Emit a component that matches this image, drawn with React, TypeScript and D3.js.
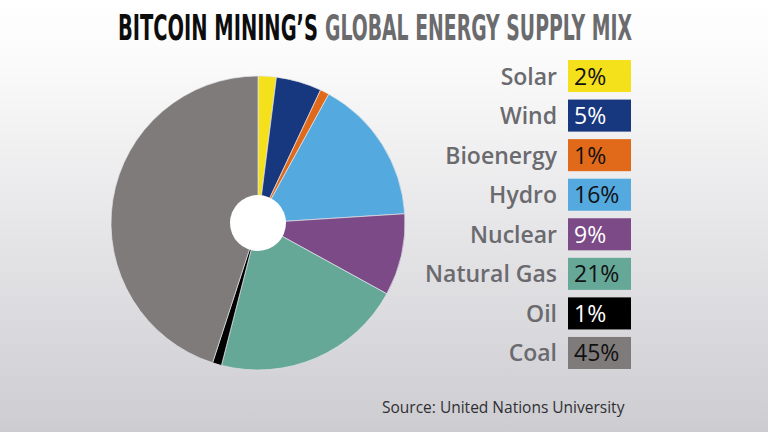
import { useEffect, useRef } from 'react';
import * as d3 from 'd3';

const categories = ['Solar', 'Wind', 'Bioenergy', 'Hydro', 'Nuclear', 'Natural Gas', 'Oil', 'Coal'];
const shares = [2, 5, 1, 16, 9, 21, 1, 45];
const colors = ['#f4e01b', '#17377f', '#e06a1a', '#54a9df', '#7c4a86', '#66a898', '#000000', '#7f7b7a'];
const labelInk = ['#111', '#fff', '#111', '#111', '#fff', '#111', '#fff', '#111'];

const width = 768;
const height = 432;

const App = () => {
  const svgRef = useRef<SVGSVGElement>(null!);

  useEffect(() => {
    const svg = d3.select(svgRef.current);
    svg.selectAll('*').remove();

    const defs = svg.append('defs');
    const grad = defs
      .append('linearGradient')
      .attr('id', 'bg')
      .attr('x1', 0)
      .attr('y1', 0)
      .attr('x2', 0)
      .attr('y2', 1);
    grad.append('stop').attr('offset', '0%').attr('stop-color', '#ffffff');
    grad.append('stop').attr('offset', '15%').attr('stop-color', '#fafafa');
    grad.append('stop').attr('offset', '100%').attr('stop-color', '#cdccd1');

    svg.append('rect').attr('width', width).attr('height', height).attr('fill', 'url(#bg)');

    // title: condensed look made by squeezing the glyphs horizontally
    const titleFont = '"DejaVu Sans Condensed", "DejaVu Sans", sans-serif';
    const addTitle = (x: number, w: number, fill: string, label: string) => {
      const gT = svg.append('g');
      const t = gT
        .append('text')
        .attr('x', 0)
        .attr('y', 0)
        .attr('font-family', titleFont)
        .attr('font-weight', 700)
        .attr('font-size', 35)
        .attr('fill', fill)
        .text(label);
      const natural = (t.node() as SVGTextElement).getComputedTextLength() || w;
      gT.attr('transform', `translate(${x},40) scale(${w / natural},1)`);
    };
    addTitle(118, 200, '#0d0d0d', 'BITCOIN MINING’S');
    addTitle(325, 307, '#6b6b6e', 'GLOBAL ENERGY SUPPLY MIX');

    // pie
    const cx = 258;
    const cy = 223;
    const outer = 147;
    const inner = 28;
    const pie = d3
      .pie<number>()
      .sort(null)
      .value(d => d);
    const arc = d3.arc<d3.PieArcDatum<number>>().innerRadius(0).outerRadius(outer);
    const g = svg.append('g').attr('transform', `translate(${cx},${cy})`);
    g.selectAll('path')
      .data(pie(shares))
      .enter()
      .append('path')
      .attr('d', arc)
      .attr('fill', (_, i) => colors[i])
      .attr('stroke', '#e4e4ea')
      .attr('stroke-width', 0.7);
    g.append('circle').attr('r', inner).attr('fill', '#fff');

    // legend
    const y = d3
      .scaleBand<string>()
      .domain(categories)
      .range([60, 369])
      .paddingInner(0.19);
    const legend = svg.append('g');
    const rows = legend
      .selectAll('g')
      .data(categories)
      .enter()
      .append('g')
      .attr('transform', d => `translate(0,${y(d)})`);
    rows
      .append('rect')
      .attr('x', 568)
      .attr('width', 63)
      .attr('height', y.bandwidth())
      .attr('fill', (_, i) => colors[i]);
    rows
      .append('text')
      .attr('x', 557)
      .attr('y', y.bandwidth() / 2 + 8.5)
      .attr('text-anchor', 'end')
      .attr('font-family', '"Open Sans", "Noto Sans", sans-serif')
      .attr('font-weight', 600)
      .attr('font-size', 23)
      .attr('fill', '#6a6a6f')
      .text(d => d);
    rows
      .append('text')
      .attr('x', 574)
      .attr('y', y.bandwidth() / 2 + 8.5)
      .attr('font-family', '"Open Sans", "Noto Sans", sans-serif')
      .attr('font-weight', 500)
      .attr('font-size', 23)
      .attr('fill', (_, i) => labelInk[i])
      .text((_, i) => `${shares[i]}%`);

    svg
      .append('text')
      .attr('x', 382)
      .attr('y', 413)
      .attr('font-family', '"Open Sans", "Noto Sans", sans-serif')
      .attr('font-size', 15.5)
      .attr('fill', '#2f2f33')
      .text('Source: United Nations University');
  }, []);

  return (
    <div style={{ position: 'fixed', left: 0, top: 0 }}>
      <svg ref={svgRef} width={width} height={height} style={{ display: 'block' }} />
    </div>
  );
};

export default App;
